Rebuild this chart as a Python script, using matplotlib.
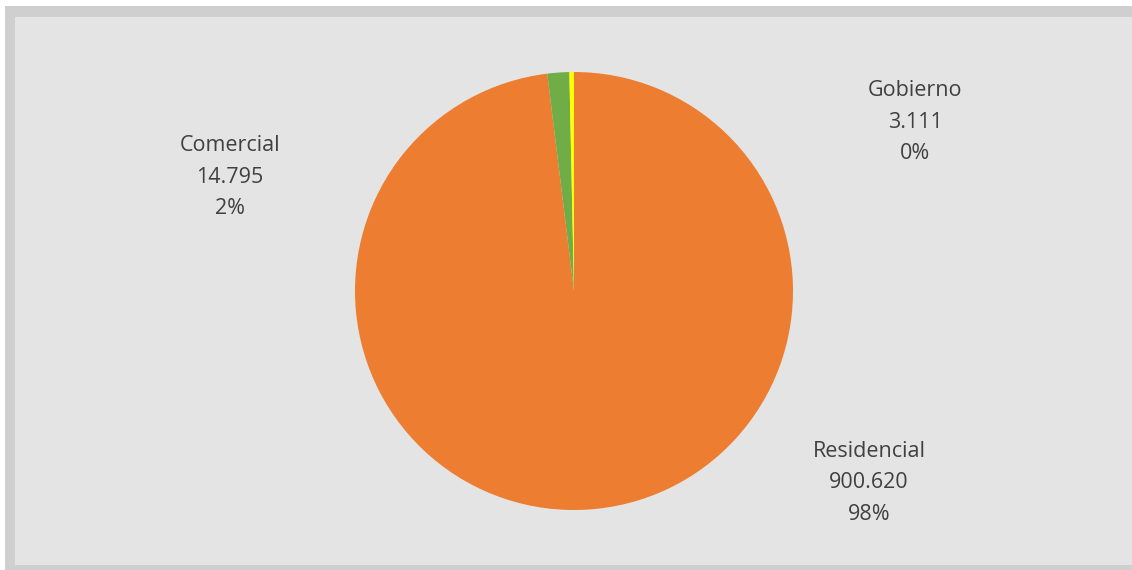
import matplotlib.pyplot as plt
from matplotlib.patches import Rectangle

categories = ['Residencial', 'Comercial', 'Gobierno']
values = [900620, 14795, 3111]
value_labels = ['900.620', '14.795', '3.111']
colors = ['#ED7D31', '#70AD47', '#FFFF00']

W, H = 1132, 570
fig = plt.figure(figsize=(W / 100, H / 100), dpi=100)
fig.patch.set_facecolor('white')

# marco gris del grafico (coordenadas en pixeles, origen arriba-izquierda)
def px_rect(x0, y0, x1, y1, color):
    fig.patches.append(Rectangle((x0 / W, 1 - y1 / H), (x1 - x0) / W, (y1 - y0) / H,
                                 transform=fig.transFigure, facecolor=color,
                                 edgecolor='none', zorder=-2))

px_rect(5, 6, W + 5, H, '#d0cfcf')
px_rect(15, 17, W + 5, 565, '#e4e4e4')

# area del pie: centro (574, 291), radio 219
cx, cy, r = 574, 291, 219
ax = fig.add_axes([(cx - r) / W, 1 - (cy + r) / H, 2 * r / W, 2 * r / H])
ax.set_zorder(2)
ax.pie(values, colors=colors, startangle=90, counterclock=False,
       wedgeprops=dict(linewidth=0))
ax.set_xlim(-1, 1)
ax.set_ylim(-1, 1)
ax.set_aspect('auto')
ax.axis('off')

total = sum(values)
label_pos = {'Residencial': (869, 483), 'Comercial': (230, 177), 'Gobierno': (915, 122)}
for cat, v, vl in zip(categories, values, value_labels):
    x, y = label_pos[cat]
    pct = f'{round(v / total * 100):.0f}%'
    fig.text(x / W, 1 - y / H, f'{cat}\n{vl}\n{pct}', ha='center', va='center',
             fontsize=15.5, color='#404040', family='Open Sans', linespacing=1.66,
             zorder=3)

fig.savefig('out.png', dpi=100)
